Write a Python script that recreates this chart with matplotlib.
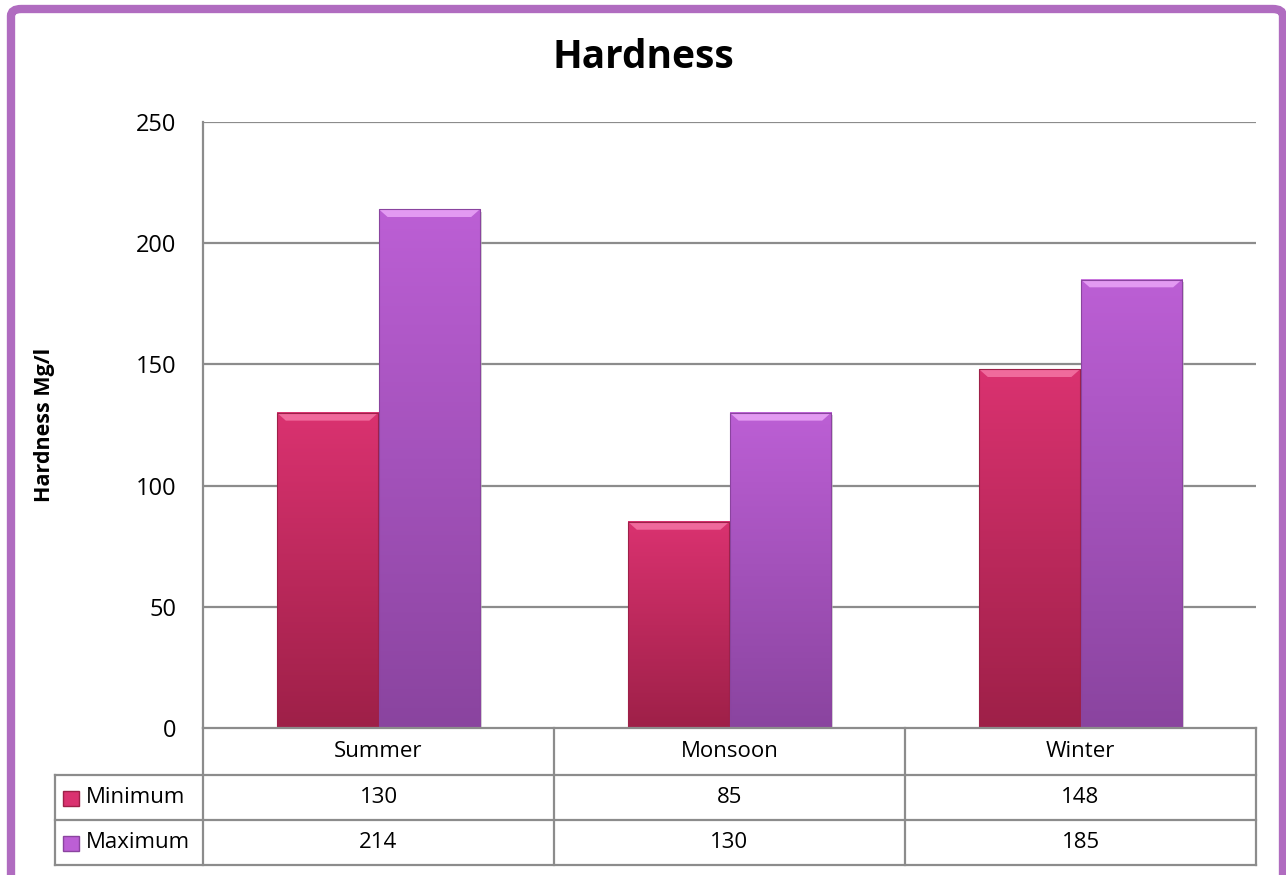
import numpy as np
import matplotlib.pyplot as plt
from matplotlib.colors import LinearSegmentedColormap
from matplotlib.patches import FancyBboxPatch, Rectangle, Polygon
from matplotlib.lines import Line2D
from matplotlib.transforms import blended_transform_factory

plt.rcParams['font.family'] = ['Open Sans', 'DejaVu Sans']

# data
seasons = ['Summer', 'Monsoon', 'Winter']
series = ['Minimum', 'Maximum']
minimum = [130, 85, 148]
maximum = [214, 130, 185]
yticks = [0, 50, 100, 150, 200, 250]

# colours (top, bottom, bevel) for each series
shades = {
    'Minimum': ('#DA3270', '#9E2048', '#F06A9C'),
    'Maximum': ('#BC5FD5', '#8A449F', '#E39AF2'),
}

W, H = 1286, 875
fig = plt.figure(figsize=(W / 100, H / 100), dpi=100)

def fx(px):
    return px / W

def fy(py):
    return 1 - py / H

ax = fig.add_axes([fx(203), fy(728), fx(1256) - fx(203), fy(122) - fy(728)])

x = np.arange(len(seasons))
width = 0.288
offsets = [-0.145, 0.145]
grad = np.linspace(0, 1, 256).reshape(-1, 1)

for name, vals, off in zip(series, [minimum, maximum], offsets):
    top, bottom, bevel = shades[name]
    cmap = LinearSegmentedColormap.from_list(name, [bottom, top])
    bars = ax.bar(x + off, vals, width, color=top, edgecolor='none', zorder=3)
    for b in bars:
        x0, x1 = b.get_x(), b.get_x() + b.get_width()
        h = b.get_height()
        # vertical gradient fill
        ax.imshow(grad, cmap=cmap, extent=(x0, x1, 0, h), origin='lower',
                  aspect='auto', zorder=3.5)
        # bevel at the top
        dx, dy = 0.025, 3.2
        ax.add_patch(Polygon([(x0, h), (x1, h), (x1 - dx, h - dy), (x0 + dx, h - dy)],
                             closed=True, facecolor=bevel, edgecolor='none', zorder=4))
        ax.add_patch(Rectangle((x0, 0), x1 - x0, h, facecolor='none',
                               edgecolor=bottom, linewidth=0.8, zorder=4.5))
        # soft shadow on the right
        ax.add_patch(Rectangle((x1, 0), 0.006, h - 1, facecolor='#BBBBBB',
                               edgecolor='none', alpha=0.6, zorder=2.9))

ax.set_xlim(-0.5, len(seasons) - 0.5)
ax.set_ylim(0, 250)
ax.set_yticks(yticks)
ax.set_xticks([])
ax.tick_params(axis='y', length=0, pad=19, labelsize=17)
for t in yticks[1:]:
    ax.axhline(t, color='#8C8C8C', linewidth=1.6, zorder=1)
for s in ['top', 'right', 'bottom']:
    ax.spines[s].set_visible(False)
ax.spines['left'].set_color('#8C8C8C')
ax.spines['left'].set_linewidth(1.6)

ax.set_ylabel('Hardness Mg/l', fontsize=15.5, fontweight='bold', labelpad=58)
fig.text(0.5, fy(58), 'Hardness', ha='center', va='center',
         fontsize=28, fontweight='bold')

# data table under the plot
tr = blended_transform_factory(ax.transData, fig.transFigure)
line_kw = dict(color='#8C8C8C', linewidth=1.6)
rows = [fy(728), fy(775), fy(820), fy(865)]
left_col = fx(55)
xl, xr = -0.5, len(seasons) - 0.5

fig.add_artist(Line2D([xl, xr], [rows[0]] * 2, transform=tr, **line_kw))
for r in rows[1:]:
    fig.add_artist(Line2D([left_col, fx(1256)], [r] * 2, transform=fig.transFigure, **line_kw))
for e in np.arange(len(seasons) + 1) - 0.5:
    fig.add_artist(Line2D([e, e], [rows[0], rows[-1]], transform=tr, **line_kw))
fig.add_artist(Line2D([left_col] * 2, [rows[1], rows[-1]], transform=fig.transFigure, **line_kw))

for i, s in enumerate(seasons):
    fig.text(x[i], (rows[0] + rows[1]) / 2, s, transform=tr, ha='center', va='center', fontsize=16)
for j, (name, vals) in enumerate(zip(series, [minimum, maximum])):
    yc = (rows[j + 1] + rows[j + 2]) / 2
    for i, v in enumerate(vals):
        fig.text(x[i], yc, str(v), transform=tr, ha='center', va='center', fontsize=16)
    top, bottom, bevel = shades[name]
    fig.patches.append(Rectangle((fx(63), yc - 8 / H), 16 / W, 15 / H,
                                 transform=fig.transFigure, facecolor=top,
                                 edgecolor=bottom, linewidth=1))
    fig.text(fx(86), yc, name, ha='left', va='center', fontsize=16)

# purple frame
fig.patches.append(FancyBboxPatch((fx(11), fy(H + 20)), fx(1283) - fx(11), fy(9) - fy(H + 20),
                                  boxstyle='round,pad=0,rounding_size=0.008',
                                  transform=fig.transFigure, facecolor='none',
                                  edgecolor='#B06CC0', linewidth=6))

fig.savefig('out.png', dpi=100)
